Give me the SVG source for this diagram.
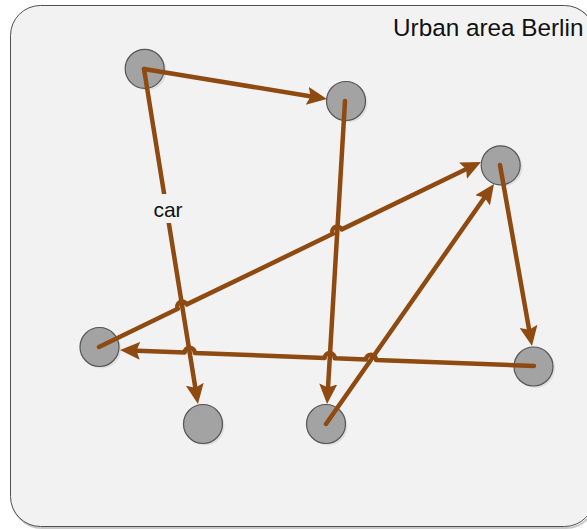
<svg xmlns="http://www.w3.org/2000/svg" width="587" height="529" viewBox="0 0 587 529">
<style>
.edge{fill:none;stroke:#8E4A10;stroke-width:4.5;stroke-linejoin:round;stroke-linecap:round;marker-end:url(#arr)}
.node{fill:#A3A3A3;stroke:#555;stroke-width:1.2}
.shadow{fill:#000;opacity:0.08}
.title{font-family:"Liberation Sans",Arial,sans-serif;font-size:24.3px;fill:#111}
.lbl{font-family:"Liberation Sans",Arial,sans-serif;font-size:21px;fill:#111}
</style>
<defs>
<marker id="arr" markerUnits="userSpaceOnUse" markerWidth="22" markerHeight="20" viewBox="0 0 22 20" refX="9" refY="9" orient="auto">
<path d="M0,0 L20,9 L0,18 L3.5,9 z" fill="#8E4A10"/>
</marker>
</defs>
<g id="area">
<rect x="12" y="7" width="584" height="521" rx="30" fill="none" stroke="#c8c8c8" stroke-width="2"/>
<rect x="10.5" y="5.5" width="584" height="521" rx="30" fill="#F2F2F2" stroke="#505050" stroke-width="1"/>
<text class="title" x="393" y="36">Urban area Berlin</text>
</g>
<g id="nA"><circle class="shadow" cx="147" cy="71" r="19.5"/><circle class="node" cx="144.7" cy="68.8" r="19.5"/></g>
<g id="nB"><circle class="shadow" cx="348" cy="103" r="19.5"/><circle class="node" cx="346" cy="101" r="19.5"/></g>
<g id="nC"><circle class="shadow" cx="503" cy="167" r="19.5"/><circle class="node" cx="500.7" cy="165.3" r="19.5"/></g>
<g id="nD"><circle class="shadow" cx="101.5" cy="349" r="19.5"/><circle class="node" cx="99.5" cy="347" r="19.5"/></g>
<g id="nE"><circle class="shadow" cx="535.5" cy="368.5" r="19.5"/><circle class="node" cx="533.5" cy="366.5" r="19.5"/></g>
<g id="nF"><circle class="shadow" cx="205" cy="426" r="19.5"/><circle class="node" cx="203" cy="424" r="19.5"/></g>
<g id="nG"><circle class="shadow" cx="328" cy="426" r="19.5"/><circle class="node" cx="326" cy="424" r="19.5"/></g>
<g id="connectors">
<path class="edge" d="M144,69 L316.1,97.2"/>
<path class="edge" d="M144,69 L196.2,393.1"/>
<path class="edge" d="M345,101 L327.7,393"/>
<path class="edge" d="M99,347 L177.8,308.8 A5,5 0 0 1 186.8,304.4 L332.8,233.8 A5,5 0 0 1 341.8,229.4 L471.1,166.8"/>
<path class="edge" d="M326,424 L487.7,193"/>
<path class="edge" d="M500,165 L530.1,335.2"/>
<path class="edge" d="M534,366 L376,359.9 A5,5 0 0 0 366,359.5 L334.7,358.3 A5,5 0 0 0 324.7,357.9 L194.7,352.9 A5,5 0 0 0 184.7,352.5 L131,350.4"/>
<g id="label-car">
<rect x="151" y="194" width="34" height="29" fill="#F2F2F2"/>
<text class="lbl" x="168" y="217" text-anchor="middle">car</text>
</g>
</g>
</svg>
